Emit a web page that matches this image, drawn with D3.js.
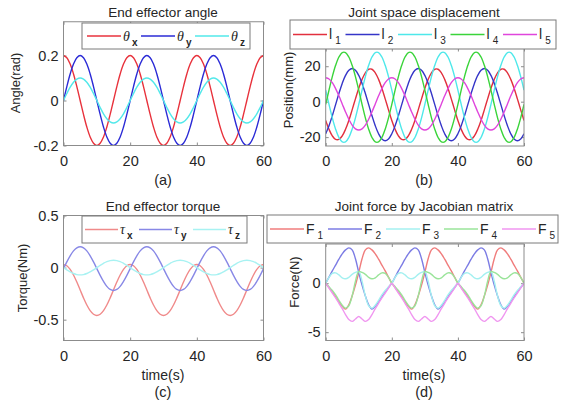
<!DOCTYPE html>
<html><head><meta charset="utf-8">
<script src="https://cdn.jsdelivr.net/npm/d3@7"></script>
<style>
body{margin:0;background:#fff}
svg{display:block}
text{font-family:"Liberation Sans",Arial,sans-serif;fill:#262626}
</style>
</head><body><svg id="c" width="569" height="403"></svg>
<script>
// ---------- data (sampled every 1 s, t = 0..60) ----------
const time = d3.range(0, 61, 1);
const xTicks = [0, 20, 40, 60];

// (a) End effector angle (rad)
const thetaX = [0.2,0.19,0.162,0.118,0.062,0,-0.062,-0.118,-0.162,-0.19,-0.2,-0.19,-0.162,-0.118,-0.062,0,0.062,0.118,0.162,0.19,
 0.2,0.19,0.162,0.118,0.062,0,-0.062,-0.118,-0.162,-0.19,-0.2,-0.19,-0.162,-0.118,-0.062,0,0.062,0.118,0.162,0.19,
 0.2,0.19,0.162,0.118,0.062,0,-0.062,-0.118,-0.162,-0.19,-0.2,-0.19,-0.162,-0.118,-0.062,0,0.062,0.118,0.162,0.19,0.2];
const thetaY = [0,0.062,0.118,0.162,0.19,0.2,0.19,0.162,0.118,0.062,0,-0.062,-0.118,-0.162,-0.19,-0.2,-0.19,-0.162,-0.118,-0.062,
 0,0.062,0.118,0.162,0.19,0.2,0.19,0.162,0.118,0.062,0,-0.062,-0.118,-0.162,-0.19,-0.2,-0.19,-0.162,-0.118,-0.062,
 0,0.062,0.118,0.162,0.19,0.2,0.19,0.162,0.118,0.062,0,-0.062,-0.118,-0.162,-0.19,-0.2,-0.19,-0.162,-0.118,-0.062,0];
const thetaZ = [0,0.031,0.059,0.081,0.095,0.1,0.095,0.081,0.059,0.031,0,-0.031,-0.059,-0.081,-0.095,-0.1,-0.095,-0.081,-0.059,-0.031,
 0,0.031,0.059,0.081,0.095,0.1,0.095,0.081,0.059,0.031,0,-0.031,-0.059,-0.081,-0.095,-0.1,-0.095,-0.081,-0.059,-0.031,
 0,0.031,0.059,0.081,0.095,0.1,0.095,0.081,0.059,0.031,0,-0.031,-0.059,-0.081,-0.095,-0.1,-0.095,-0.081,-0.059,-0.031,0];

// (b) Joint space displacement (mm)
const l1 = [-10.6,-15.6,-19.3,-21.3,-21.3,-19.3,-15.6,-10.6,-4.6,1.6,7.6,12.6,16.3,18.3,18.3,16.3,12.6,7.6,1.6,-4.6,
 -10.6,-15.6,-19.3,-21.3,-21.3,-19.3,-15.6,-10.6,-4.6,1.6,7.6,12.6,16.3,18.3,18.3,16.3,12.6,7.6,1.6,-4.6,
 -10.6,-15.6,-19.3,-21.3,-21.3,-19.3,-15.6,-10.6,-4.6,1.6,7.6,12.6,16.3,18.3,18.3,16.3,12.6,7.6,1.6,-4.6,-10.6];
const l2 = [-18.1,-13.6,-7.9,-1.65,4.6,10.3,14.8,17.7,18.7,17.7,14.8,10.3,4.6,-1.65,-7.9,-13.6,-18.1,-21.0,-22.0,-21.0,
 -18.1,-13.6,-7.9,-1.65,4.6,10.3,14.8,17.7,18.7,17.7,14.8,10.3,4.6,-1.65,-7.9,-13.6,-18.1,-21.0,-22.0,-21.0,
 -18.1,-13.6,-7.9,-1.65,4.6,10.3,14.8,17.7,18.7,17.7,14.8,10.3,4.6,-1.65,-7.9,-13.6,-18.1,-21.0,-22.0,-21.0,-18.1];
const l3 = [6.5,-1.5,-9.1,-15.5,-20.2,-22.7,-22.7,-20.2,-15.5,-9.1,-1.5,6.5,14.1,20.5,25.2,27.7,27.7,25.2,20.5,14.1,
 6.5,-1.5,-9.1,-15.5,-20.2,-22.7,-22.7,-20.2,-15.5,-9.1,-1.5,6.5,14.1,20.5,25.2,27.7,27.7,25.2,20.5,14.1,
 6.5,-1.5,-9.1,-15.5,-20.2,-22.7,-22.7,-20.2,-15.5,-9.1,-1.5,6.5,14.1,20.5,25.2,27.7,27.7,25.2,20.5,14.1,6.5];
const l4 = [-1.5,6.5,14.1,20.5,25.2,27.7,27.7,25.2,20.5,14.1,6.5,-1.5,-9.1,-15.5,-20.2,-22.7,-22.7,-20.2,-15.5,-9.1,
 -1.5,6.5,14.1,20.5,25.2,27.7,27.7,25.2,20.5,14.1,6.5,-1.5,-9.1,-15.5,-20.2,-22.7,-22.7,-20.2,-15.5,-9.1,
 -1.5,6.5,14.1,20.5,25.2,27.7,27.7,25.2,20.5,14.1,6.5,-1.5,-9.1,-15.5,-20.2,-22.7,-22.7,-20.2,-15.5,-9.1,-1.5];
const l5 = [13.5,12.8,10.7,7.4,3.3,-1.25,-5.8,-9.9,-13.2,-15.3,-16.0,-15.3,-13.2,-9.9,-5.8,-1.25,3.3,7.4,10.7,12.8,
 13.5,12.8,10.7,7.4,3.3,-1.25,-5.8,-9.9,-13.2,-15.3,-16.0,-15.3,-13.2,-9.9,-5.8,-1.25,3.3,7.4,10.7,12.8,
 13.5,12.8,10.7,7.4,3.3,-1.25,-5.8,-9.9,-13.2,-15.3,-16.0,-15.3,-13.2,-9.9,-5.8,-1.25,3.3,7.4,10.7,12.8,13.5];

// (c) End effector torque (Nm)
const tauX = [0.03,0.018,-0.017,-0.071,-0.139,-0.215,-0.291,-0.359,-0.413,-0.448,-0.46,-0.448,-0.413,-0.359,-0.291,-0.215,-0.139,-0.071,-0.017,0.018,
 0.03,0.018,-0.017,-0.071,-0.139,-0.215,-0.291,-0.359,-0.413,-0.448,-0.46,-0.448,-0.413,-0.359,-0.291,-0.215,-0.139,-0.071,-0.017,0.018,
 0.03,0.018,-0.017,-0.071,-0.139,-0.215,-0.291,-0.359,-0.413,-0.448,-0.46,-0.448,-0.413,-0.359,-0.291,-0.215,-0.139,-0.071,-0.017,0.018,0.03];
const tauY = [-0.01,0.055,0.113,0.16,0.19,0.2,0.19,0.16,0.113,0.055,-0.01,-0.075,-0.133,-0.18,-0.21,-0.22,-0.21,-0.18,-0.133,-0.075,
 -0.01,0.055,0.113,0.16,0.19,0.2,0.19,0.16,0.113,0.055,-0.01,-0.075,-0.133,-0.18,-0.21,-0.22,-0.21,-0.18,-0.133,-0.075,
 -0.01,0.055,0.113,0.16,0.19,0.2,0.19,0.16,0.113,0.055,-0.01,-0.075,-0.133,-0.18,-0.21,-0.22,-0.21,-0.18,-0.133,-0.075,-0.01];
const tauZ = [0,-0.022,-0.041,-0.057,-0.067,-0.07,-0.067,-0.057,-0.041,-0.022,0,0.022,0.041,0.057,0.067,0.07,0.067,0.057,0.041,0.022,
 0,-0.022,-0.041,-0.057,-0.067,-0.07,-0.067,-0.057,-0.041,-0.022,0,0.022,0.041,0.057,0.067,0.07,0.067,0.057,0.041,0.022,
 0,-0.022,-0.041,-0.057,-0.067,-0.07,-0.067,-0.057,-0.041,-0.022,0,0.022,0.041,0.057,0.067,0.07,0.067,0.057,0.041,0.022,0];

// (d) Joint force by Jacobian matrix (N)
const F1 = [0,-0.45,-0.9,-1.4,-1.9,-2.35,-2.65,-2.2,-1.3,-0.2,1.1,2.5,3.4,3.6,3.4,3.0,2.45,1.85,1.25,0.62,
 0,-0.45,-0.9,-1.4,-1.9,-2.35,-2.65,-2.2,-1.3,-0.2,1.1,2.5,3.4,3.6,3.4,3.0,2.45,1.85,1.25,0.62,
 0,-0.45,-0.9,-1.4,-1.9,-2.35,-2.65,-2.2,-1.3,-0.2,1.1,2.5,3.4,3.6,3.4,3.0,2.45,1.85,1.25,0.62,0];
const F2 = [0,0.62,1.25,1.85,2.45,3.0,3.4,3.6,3.4,2.5,1.1,-0.2,-1.3,-2.2,-2.65,-2.35,-1.9,-1.4,-0.9,-0.45,
 0,0.62,1.25,1.85,2.45,3.0,3.4,3.6,3.4,2.5,1.1,-0.2,-1.3,-2.2,-2.65,-2.35,-1.9,-1.4,-0.9,-0.45,
 0,0.62,1.25,1.85,2.45,3.0,3.4,3.6,3.4,2.5,1.1,-0.2,-1.3,-2.2,-2.65,-2.35,-1.9,-1.4,-0.9,-0.45,0];
const F3 = [0,0.6,1.0,1.05,0.85,0.55,0.45,0.6,0.9,1.1,1.2,0.2,-1.3,-2.3,-2.55,-2.25,-1.75,-1.2,-0.75,-0.35,
 0,0.6,1.0,1.05,0.85,0.55,0.45,0.6,0.9,1.1,1.2,0.2,-1.3,-2.3,-2.55,-2.25,-1.75,-1.2,-0.75,-0.35,
 0,0.6,1.0,1.05,0.85,0.55,0.45,0.6,0.9,1.1,1.2,0.2,-1.3,-2.3,-2.55,-2.25,-1.75,-1.2,-0.75,-0.35,0];
const F4 = [0,-0.35,-0.75,-1.2,-1.75,-2.25,-2.55,-2.3,-1.3,0.2,1.2,1.1,0.9,0.6,0.45,0.55,0.85,1.05,1.0,0.6,
 0,-0.35,-0.75,-1.2,-1.75,-2.25,-2.55,-2.3,-1.3,0.2,1.2,1.1,0.9,0.6,0.45,0.55,0.85,1.05,1.0,0.6,
 0,-0.35,-0.75,-1.2,-1.75,-2.25,-2.55,-2.3,-1.3,0.2,1.2,1.1,0.9,0.6,0.45,0.55,0.85,1.05,1.0,0.6,0];
const F5 = [0,-0.5,-1.0,-1.5,-2.05,-2.6,-3.2,-3.7,-3.9,-3.65,-3.4,-3.65,-3.9,-3.7,-3.2,-2.6,-2.05,-1.5,-1.0,-0.5,
 0,-0.5,-1.0,-1.5,-2.05,-2.6,-3.2,-3.7,-3.9,-3.65,-3.4,-3.65,-3.9,-3.7,-3.2,-2.6,-2.05,-1.5,-1.0,-0.5,
 0,-0.5,-1.0,-1.5,-2.05,-2.6,-3.2,-3.7,-3.9,-3.65,-3.4,-3.65,-3.9,-3.7,-3.2,-2.6,-2.05,-1.5,-1.0,-0.5,0];

// ---------- layout ----------
const svg = d3.select("#c");
const AX = "#8c8c8c";

const panels = [
 {id:"a", title:"End effector angle", ylabel:"Angle(rad)", xlabel:null, caption:"(a)",
  x0:63.5, x1:263.5, y0:21.75, y1:145.5, ydom:[-0.2,0.35], yticks:[-0.2,0,0.2],
  ylx:15, yly:83, cx:163, titleY:16.5, capY:185, tickFont:14.5,
  series:[{v:thetaX,c:"#e8323c"},{v:thetaY,c:"#2b2bd6"},{v:thetaZ,c:"#52e8ea"}],
  legend:{x:82,y:23,w:168,h:26,start:87,step:54,len:34,sym:"θ",italic:true,labels:["x","y","z"],bold:true}},
 {id:"b", title:"Joint space displacement", ylabel:"Position(mm)", xlabel:null, caption:"(b)",
  x0:325.7, x1:524, y0:48.5, y1:146, ydom:[-25,30], yticks:[-20,0,20],
  ylx:288, yly:90, cx:424, titleY:16.5, capY:185, tickFont:14.5,
  series:[{v:l1,c:"#e2303e"},{v:l2,c:"#3535c8"},{v:l3,c:"#4ee8ea"},{v:l4,c:"#3ad43a"},{v:l5,c:"#e046dc"}],
  legend:{x:290,y:20,w:266,h:29,start:293,step:52.5,len:34,sym:"l",italic:false,labels:["1","2","3","4","5"],bold:false}},
 {id:"c", title:"End effector torque", ylabel:"Torque(Nm)", xlabel:"time(s)", caption:"(c)",
  x0:63.5, x1:263.5, y0:215.5, y1:340.5, ydom:[-0.7,0.5], yticks:[-0.5,0,0.5],
  ylx:22.5, yly:278, cx:163, titleY:210.5, capY:397, tickFont:14.5,
  series:[{v:tauX,c:"#f08a8a"},{v:tauY,c:"#8888e6"},{v:tauZ,c:"#a8f2f2"}],
  legend:{x:82,y:216,w:165,h:27,start:85,step:54,len:33,sym:"τ",italic:true,labels:["x","y","z"],bold:true}},
 {id:"d", title:"Joint force by Jacobian matrix", ylabel:"Force(N)", xlabel:"time(s)", caption:"(d)",
  x0:325.7, x1:524, y0:244, y1:340.5, ydom:[-5.85,4.0], yticks:[-5,0],
  ylx:294, yly:282, cx:424, titleY:210.5, capY:397, tickFont:14.5,
  series:[{v:F1,c:"#f07c7c"},{v:F2,c:"#7c7ce4"},{v:F3,c:"#a4f0f0"},{v:F4,c:"#9ae49a"},{v:F5,c:"#f096f0"}],
  legend:{x:267,y:215,w:291,h:28,start:270,step:58,len:34,sym:"F",italic:false,labels:["1","2","3","4","5"],bold:false}}
];

panels.forEach(p => {
  const g = svg.append("g");
  const x = d3.scaleLinear().domain([0,60]).range([p.x0,p.x1]);
  const y = d3.scaleLinear().domain(p.ydom).range([p.y1,p.y0]);
  const cid = "clip" + p.id;
  svg.append("clipPath").attr("id",cid).append("rect")
    .attr("x",p.x0).attr("y",p.y0).attr("width",p.x1-p.x0).attr("height",p.y1-p.y0);

  g.append("text").attr("x",p.cx).attr("y",p.titleY).attr("text-anchor","middle")
    .style("font-size","13.5px").text(p.title);

  const xa = d3.axisBottom(x).tickValues(xTicks).tickSizeInner(-3).tickSizeOuter(0).tickPadding(10).tickFormat(d=>String(d));
  const ya = d3.axisLeft(y).tickValues(p.yticks).tickSizeInner(-3).tickSizeOuter(0).tickPadding(5).tickFormat(d=>String(d));
  const gx = g.append("g").attr("transform",`translate(0,${p.y1})`).call(xa);
  const gy = g.append("g").attr("transform",`translate(${p.x0},0)`).call(ya);
  [gx,gy].forEach(a=>{
    a.select(".domain").remove();
    a.selectAll("line").attr("stroke",AX);
    a.selectAll("text").style("font-size",p.tickFont+"px").style("font-family","'Liberation Sans',Arial,sans-serif").attr("fill","#262626");
  });
  const gx2 = g.append("g").attr("transform",`translate(0,${p.y0})`).call(d3.axisTop(x).tickValues(xTicks).tickSizeInner(-3).tickSizeOuter(0).tickFormat(""));
  const gy2 = g.append("g").attr("transform",`translate(${p.x1},0)`).call(d3.axisRight(y).tickValues(p.yticks).tickSizeInner(-3).tickSizeOuter(0).tickFormat(""));
  [gx2,gy2].forEach(a=>{a.select(".domain").remove(); a.selectAll("line").attr("stroke",AX);});

  const line = d3.line().x((d,i)=>x(time[i])).y(d=>y(d)).curve(d3.curveCatmullRom.alpha(0.5));
  const lg = g.append("g").attr("clip-path",`url(#${cid})`);
  p.series.forEach(s=>{
    lg.append("path").datum(s.v).attr("d",line).attr("fill","none")
      .attr("stroke",s.c).attr("stroke-width",1.4);
  });

  g.append("rect").attr("x",p.x0).attr("y",p.y0).attr("width",p.x1-p.x0).attr("height",p.y1-p.y0)
    .attr("fill","none").attr("stroke",AX).attr("stroke-width",1);

  g.append("text").attr("transform",`translate(${p.ylx+4.5},${p.yly}) rotate(-90)`)
    .attr("text-anchor","middle").style("font-size","13px").text(p.ylabel);
  if (p.xlabel) g.append("text").attr("x",p.cx).attr("y",380).attr("text-anchor","middle")
    .style("font-size","14px").text(p.xlabel);
  g.append("text").attr("x",p.cx).attr("y",p.capY).attr("text-anchor","middle")
    .style("font-size","14.5px").text(p.caption);

  const L = p.legend;
  const lgd = g.append("g");
  lgd.append("rect").attr("x",L.x).attr("y",L.y).attr("width",L.w).attr("height",L.h)
    .attr("fill","#fff").attr("stroke","#7a7a7a").attr("stroke-width",1);
  const cy = L.y + L.h/2;
  p.series.forEach((s,i)=>{
    const sx = L.start + i*L.step;
    lgd.append("line").attr("x1",sx).attr("x2",sx+L.len).attr("y1",cy).attr("y2",cy)
      .attr("stroke",s.c).attr("stroke-width",1.4);
    const t = lgd.append("text").attr("x",sx+L.len+2).attr("y",cy+4.5).style("font-size","14px");
    t.append("tspan").text(L.sym)
      .style("font-style",L.italic?"italic":"normal")
      .style("font-family",L.italic?"'Liberation Serif','DejaVu Serif',serif":"'Liberation Sans',Arial,sans-serif");
    t.append("tspan").attr("dx",L.italic?2:3).attr("dy",5).style("font-size","10px")
      .style("font-weight",L.bold?"bold":"normal").text(L.labels[i]);
  });
});
</script>
</body></html>
